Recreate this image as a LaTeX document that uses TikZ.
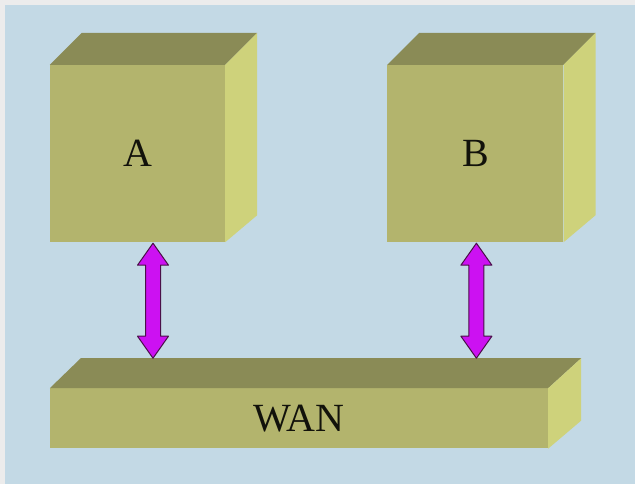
\documentclass[tikz,border=0pt]{standalone}
\usepackage{fontspec}
\setmainfont{Liberation Serif}
\usetikzlibrary{calc,positioning}

\definecolor{bgblue}{HTML}{C3D9E5}
\definecolor{bgrim}{HTML}{ECECEC}
\definecolor{olivefront}{HTML}{B3B46D}
\definecolor{olivetop}{HTML}{8A8B56}
\definecolor{oliveside}{HTML}{CED27B}
\definecolor{linkfill}{HTML}{CC11F2}
\definecolor{linkline}{HTML}{4A1048}

\tikzset{
  box/.style={rectangle, fill=olivefront, inner sep=0pt, text=black!90!olivefront},
  boxtop/.style={fill=olivetop},
  boxside/.style={fill=oliveside},
  linkarrow/.style={fill=linkfill, draw=linkline, line width=1pt, line join=round}
}

% fat double arrow from #1 (upper tip) to #2 (lower tip)
\newcommand\fatarrow[2]{%
  \draw[linkarrow] (#1) -- ($(#1)+(15.5,22)$) -- ($(#1)+(7.5,22)$)
    -- ($(#2)+(7.5,-22)$) -- ($(#2)+(15.5,-22)$) -- (#2)
    -- ($(#2)+(-15.5,-22)$) -- ($(#2)+(-7.5,-22)$)
    -- ($(#1)+(-7.5,22)$) -- ($(#1)+(-15.5,22)$) -- cycle;}

\begin{document}
\begin{tikzpicture}[x=1pt,y=-1pt, every node/.style={font=\fontsize{40}{48}\selectfont}]
  \useasboundingbox (0,0) rectangle (635,484);
  \fill[bgrim] (0,0) rectangle (635,484);
  \fill[bgblue] (5,5) rectangle (635,484);

  % the two sites
  \node[box, minimum width=175, minimum height=177] (A) at (137.5,153.5) {A};
  \node[box, minimum width=176, minimum height=177, right=162pt of A] (B) {B};
  \foreach \n in {A,B} {
    \fill[boxtop] (\n.north west) -- ++(32,-32) -- ($(\n.north east)+(32,-32)$) -- (\n.north east) -- cycle;
    \fill[boxside] (\n.north east) -- ++(32,-32) -- ($(\n.south east)+(32,-27)$) -- (\n.south east) -- cycle;
  }

  % the network bar
  \node[box, minimum width=498, minimum height=60, anchor=north west] (WAN) at ($(A.south west)+(0,146)$) {WAN};
  \fill[boxtop] (WAN.north west) -- ++(31,-30) coordinate (WANback) -- ($(WAN.north east)+(33,-30)$) -- (WAN.north east) -- cycle;
  \fill[boxside] (WAN.north east) -- ++(33,-30) -- ($(WAN.south east)+(33,-28)$) -- (WAN.south east) -- cycle;

  % links
  \coordinate (a1) at ($(A.south)+(15.5,1)$);
  \coordinate (a2) at (a1 |- WANback);
  \coordinate (b1) at ($(B.south)+(1,1)$);
  \coordinate (b2) at (b1 |- WANback);
  \fatarrow{a1}{a2}
  \fatarrow{b1}{b2}
\end{tikzpicture}
\end{document}
